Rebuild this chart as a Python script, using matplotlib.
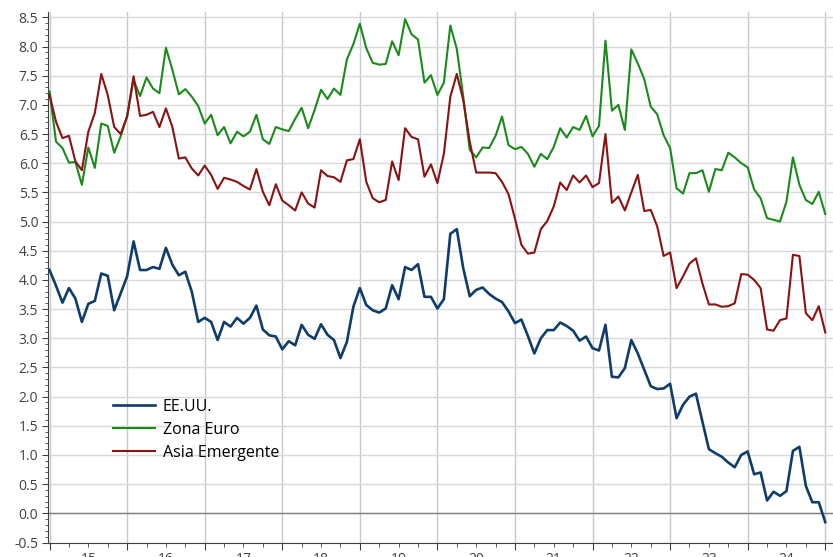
import numpy as np
import matplotlib
matplotlib.use("Agg")
import matplotlib.pyplot as plt
import matplotlib.transforms as mtransforms

# Datos mensuales ene-2015 a ene-2025
ee_uu = [4.17, 3.90, 3.61, 3.86, 3.68, 3.28, 3.59, 3.64, 4.11, 4.07, 3.48, 3.77,
         4.06, 4.66, 4.17, 4.17, 4.22, 4.19, 4.55, 4.26, 4.08, 4.14, 3.80, 3.28,
         3.35, 3.28, 2.97, 3.28, 3.20, 3.35, 3.25, 3.35, 3.56, 3.15, 3.05, 3.03,
         2.81, 2.95, 2.88, 3.23, 3.06, 2.99, 3.24, 3.06, 2.97, 2.66, 2.94, 3.54,
         3.86, 3.57, 3.48, 3.44, 3.51, 3.91, 3.67, 4.22, 4.17, 4.27, 3.71, 3.71,
         3.51, 3.67, 4.79, 4.87, 4.20, 3.72, 3.83, 3.87, 3.76, 3.68, 3.62, 3.46,
         3.26, 3.32, 3.04, 2.74, 3.00, 3.14, 3.14, 3.27, 3.21, 3.13, 2.96, 3.03,
         2.83, 2.79, 3.23, 2.34, 2.33, 2.49, 2.97, 2.74, 2.46, 2.18, 2.13, 2.14,
         2.22, 1.63, 1.86, 2.00, 2.05, 1.57, 1.10, 1.03, 0.97, 0.87, 0.79, 1.00,
         1.06, 0.67, 0.70, 0.22, 0.37, 0.30, 0.38, 1.07, 1.14, 0.47, 0.19, 0.19,
         -0.15]
zona_euro = [7.23, 6.37, 6.26, 6.01, 6.02, 5.63, 6.27, 5.92, 6.68, 6.64, 6.18, 6.46,
             6.81, 7.43, 7.15, 7.47, 7.28, 7.20, 7.98, 7.60, 7.18, 7.27, 7.14, 6.98,
             6.68, 6.83, 6.48, 6.62, 6.34, 6.54, 6.46, 6.54, 6.83, 6.41, 6.33, 6.62,
             6.58, 6.55, 6.76, 6.95, 6.60, 6.91, 7.26, 7.10, 7.28, 7.17, 7.78, 8.04,
             8.39, 7.97, 7.72, 7.69, 7.70, 8.09, 7.85, 8.47, 8.21, 8.12, 7.38, 7.51,
             7.17, 7.38, 8.36, 7.96, 7.14, 6.23, 6.10, 6.27, 6.26, 6.47, 6.80, 6.31,
             6.24, 6.28, 6.16, 5.94, 6.16, 6.07, 6.28, 6.60, 6.44, 6.62, 6.57, 6.81,
             6.46, 6.64, 8.10, 6.90, 7.00, 6.57, 7.95, 7.71, 7.44, 6.97, 6.84, 6.48,
             6.26, 5.57, 5.48, 5.83, 5.83, 5.88, 5.51, 5.90, 5.88, 6.18, 6.10, 6.00,
             5.93, 5.55, 5.40, 5.06, 5.03, 5.00, 5.34, 6.10, 5.63, 5.37, 5.30, 5.51,
             5.13]
asia_emergente = [7.17, 6.71, 6.43, 6.47, 6.03, 5.88, 6.54, 6.86, 7.53, 7.17, 6.62, 6.50,
                  6.80, 7.49, 6.81, 6.83, 6.88, 6.62, 6.94, 6.62, 6.08, 6.10, 5.91, 5.79,
                  5.96, 5.80, 5.56, 5.75, 5.72, 5.68, 5.61, 5.55, 5.90, 5.51, 5.28, 5.64,
                  5.36, 5.28, 5.19, 5.50, 5.31, 5.24, 5.88, 5.78, 5.76, 5.68, 6.05, 6.07,
                  6.41, 5.68, 5.40, 5.33, 5.37, 6.03, 5.71, 6.60, 6.45, 6.41, 5.77, 5.98,
                  5.66, 6.16, 7.14, 7.53, 7.08, 6.37, 5.84, 5.84, 5.84, 5.83, 5.68, 5.47,
                  5.05, 4.60, 4.45, 4.47, 4.87, 5.01, 5.26, 5.67, 5.54, 5.79, 5.67, 5.79,
                  5.59, 5.66, 6.50, 5.32, 5.43, 5.19, 5.50, 5.80, 5.18, 5.20, 4.92, 4.41,
                  4.47, 3.86, 4.06, 4.28, 4.37, 3.94, 3.58, 3.58, 3.54, 3.55, 3.60, 4.10,
                  4.09, 4.00, 3.86, 3.15, 3.13, 3.31, 3.34, 4.43, 4.41, 3.43, 3.31, 3.55,
                  3.10]
anios = ["15", "16", "17", "18", "19", "20", "21", "22", "23", "24"]

t = 2015 + np.arange(len(ee_uu)) / 12.0

plt.rcParams['font.family'] = ['Open Sans', 'DejaVu Sans']

fig = plt.figure(figsize=(8.33, 5.57), dpi=100)
ax = fig.add_axes([48 / 833, 14.5 / 557, 1 - 48 / 833, 531 / 557])

ax.plot(t, ee_uu, color="#0f3d6b", lw=1.9, label="EE.UU.", zorder=4)
ax.plot(t, zona_euro, color="#1a8a1a", lw=1.5, label="Zona Euro", zorder=3)
ax.plot(t, asia_emergente, color="#8b1212", lw=1.5, label="Asia Emergente", zorder=3)

ax.set_xlim(2014.98, 2025.1)
ax.set_ylim(-0.5, 8.6)
ax.set_yticks(np.arange(-0.5, 8.51, 0.5))
ax.set_yticklabels(["%.1f" % v for v in np.arange(-0.5, 8.51, 0.5)])
ax.set_yticks(np.arange(-0.5, 8.6, 0.1), minor=True)
ax.set_xticks(np.arange(2015, 2026))
ax.set_xticks(np.arange(2015, 2025.1, 0.25), minor=True)
ax.set_xticklabels([])

ax.grid(axis="y", which="major", color="#d9d9d9", lw=1.0)
ax.grid(axis="x", which="major", color="#c3cacd", lw=1.0)
ax.axhline(0, color="#808080", lw=1.0, zorder=2)

for s in ["top", "right"]:
    ax.spines[s].set_visible(False)
ax.spines["left"].set_color("#404040")
ax.spines["bottom"].set_color("#404040")
ax.tick_params(axis="y", which="major", length=4, color="#404040", labelsize=10,
               labelcolor="#404040", pad=3)
ax.tick_params(axis="y", which="minor", length=2, color="#404040")
ax.tick_params(axis="x", which="major", length=5, color="#404040")
ax.tick_params(axis="x", which="minor", length=3, color="#404040")

# etiquetas de año centradas (cortadas por el borde inferior, como en el original)
trans = mtransforms.blended_transform_factory(ax.transData, ax.transAxes)
for k, lab in enumerate(anios):
    ax.annotate(lab, xy=(2015.5 + k, 0), xycoords=trans, xytext=(0, -7),
                textcoords="offset points", ha="center", va="top",
                fontsize=10, color="#404040", annotation_clip=False)

ax.legend(loc="upper left", bbox_to_anchor=(0.065, 0.298), frameon=False,
          fontsize=11.5, handlelength=2.6, labelspacing=0.45, handletextpad=0.5)

fig.savefig("out.png", dpi=100)
